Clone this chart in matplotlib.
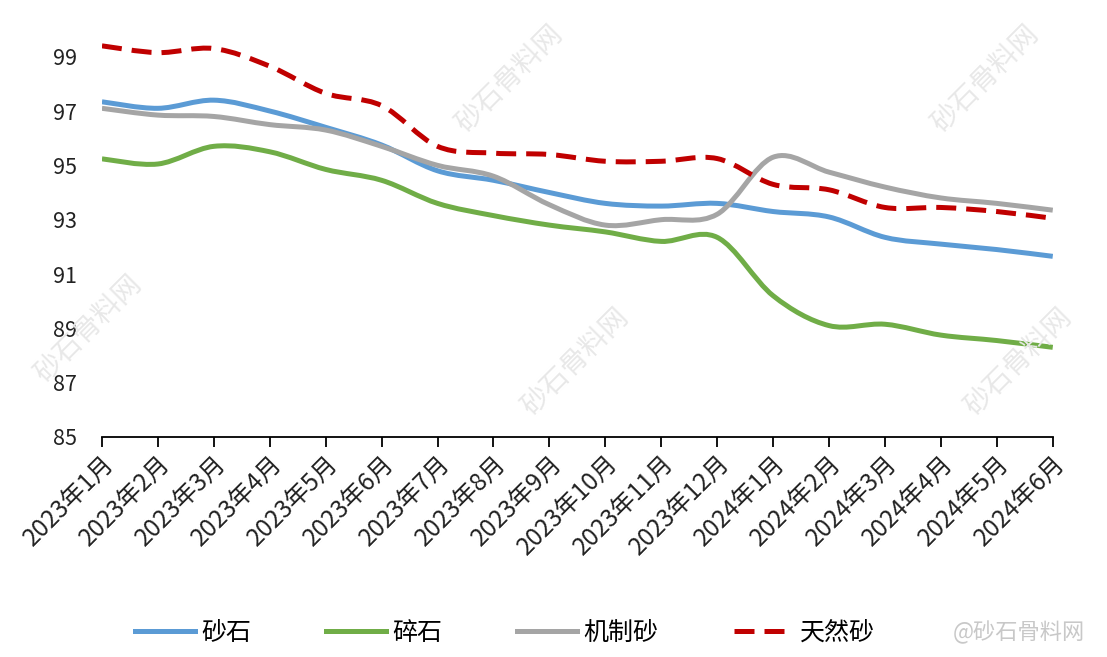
import matplotlib
matplotlib.use("Agg")
import matplotlib.pyplot as plt
from matplotlib.path import Path
from matplotlib.patches import PathPatch
from matplotlib.lines import Line2D
import numpy as np

plt.rcParams['font.family'] = ['Noto Sans CJK SC', 'DejaVu Sans']

months = ["2023年1月", "2023年2月", "2023年3月", "2023年4月", "2023年5月", "2023年6月",
          "2023年7月", "2023年8月", "2023年9月", "2023年10月", "2023年11月", "2023年12月",
          "2024年1月", "2024年2月", "2024年3月", "2024年4月", "2024年5月", "2024年6月"]

sand_stone = [97.34, 97.1, 97.4, 97.0, 96.4, 95.75, 94.8, 94.45, 94.0, 93.6, 93.5, 93.6,
              93.3, 93.1, 92.35, 92.1, 91.9, 91.65]
crushed = [95.24, 95.05, 95.7, 95.5, 94.85, 94.45, 93.6, 93.15, 92.8, 92.55, 92.2, 92.35,
           90.2, 89.1, 89.15, 88.75, 88.55, 88.3]
manufactured = [97.1, 96.85, 96.8, 96.5, 96.3, 95.7, 95.0, 94.6, 93.55, 92.8, 93.0, 93.2,
                95.3, 94.75, 94.2, 93.8, 93.6, 93.35]
natural = [99.4, 99.15, 99.3, 98.65, 97.65, 97.2, 95.7, 95.45, 95.4, 95.15, 95.15, 95.25,
           94.3, 94.1, 93.45, 93.45, 93.3, 93.05]

series_names = ["砂石", "碎石", "机制砂", "天然砂"]
yticks = [85, 87, 89, 91, 93, 95, 97, 99]


def smooth_path(xs, ys):
    pts = np.column_stack([xs, ys]).astype(float)
    n = len(pts)
    verts = [tuple(pts[0])]
    codes = [Path.MOVETO]
    for i in range(n - 1):
        p0 = pts[i - 1] if i > 0 else pts[i]
        p1 = pts[i]
        p2 = pts[i + 1]
        p3 = pts[i + 2] if i + 2 < n else pts[i + 1]
        c1 = p1 + (p2 - p0) / 6.0
        c2 = p2 - (p3 - p1) / 6.0
        verts += [tuple(c1), tuple(c2), tuple(p2)]
        codes += [Path.CURVE4] * 3
    return Path(verts, codes)


fig = plt.figure(figsize=(11.07, 6.57), dpi=100)
ax = fig.add_axes([0.0921, 0.3349, 0.8589, 0.6408])

x = np.arange(len(months))
styles = [
    dict(color="#5B9BD5", linestyle="-"),
    dict(color="#70AD47", linestyle="-"),
    dict(color="#A5A5A5", linestyle="-"),
    dict(color="#C00000", linestyle=(0, (4, 2))),
]
data = [sand_stone, crushed, manufactured, natural]
handles = []
for name, vals, st in zip(series_names, data, styles):
    patch = PathPatch(smooth_path(x, vals), fill=False, edgecolor=st["color"],
                      linewidth=3.6, linestyle=st["linestyle"], capstyle="butt",
                      joinstyle="round", zorder=3)
    ax.add_patch(patch)
    handles.append(Line2D([], [], color=st["color"], linewidth=3.6,
                          linestyle=st["linestyle"], dash_capstyle="butt",
                          label=name))

ax.set_xlim(0, len(months) - 1)
ax.set_ylim(85, 100.5)
ax.set_yticks(yticks)
ax.set_yticklabels([str(v) for v in yticks], fontsize=15.5, color="#222222")
ax.set_xticks(x)
ax.set_xticklabels(months, rotation=45, ha="right", rotation_mode="anchor",
                   fontsize=17.5, color="#222222")
for s in ["left", "right", "top"]:
    ax.spines[s].set_visible(False)
ax.spines["bottom"].set_color("#000000")
ax.spines["bottom"].set_linewidth(1.3)
ax.tick_params(axis="y", length=0, pad=18)
ax.tick_params(axis="x", length=7, width=1.3, direction="out", pad=3)

fig.legend(handles=handles, loc="center", bbox_to_anchor=(0.456, 0.037), ncol=4,
           frameon=False, fontsize=18, handlelength=2.4, columnspacing=3.0,
           handletextpad=0.25)

# watermarks
wm_color = "#e8e8e8"
for (wx, wy) in [(0.46, 0.88), (0.89, 0.88), (0.08, 0.5), (0.52, 0.45), (0.92, 0.45)]:
    fig.text(wx, wy, "砂石骨料网", rotation=45, fontsize=20, color=wm_color,
             ha="center", va="center", zorder=0)
fig.text(0.98, 0.037, "@砂石骨料网", fontsize=16, color="#c8c8c8",
         ha="right", va="center")

fig.savefig("out.png", dpi=100)
